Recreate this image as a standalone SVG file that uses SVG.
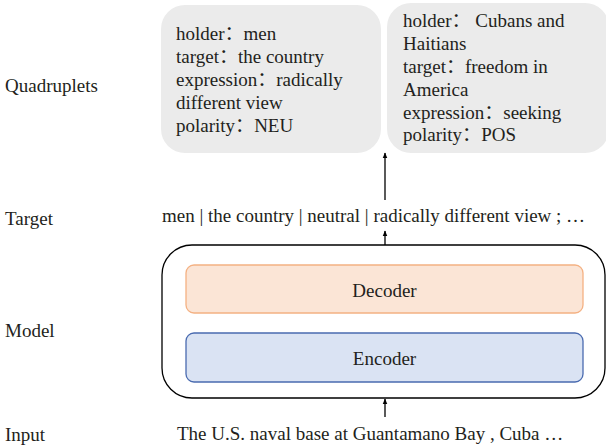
<svg xmlns="http://www.w3.org/2000/svg" width="606" height="445" viewBox="0 0 606 445">
  <style>
    text { font-family: "Liberation Serif", serif; font-size: 19px; fill: #231f20; }
    .c { font-family: "Noto Sans CJK SC", sans-serif; }
    .quad { fill: #ebebeb; stroke: none; }
    .conn { stroke: #000; stroke-width: 1.3; fill: none; marker-end: url(#arrow); }
  </style>
  <defs>
    <marker id="arrow" viewBox="0 0 10 10" refX="9" refY="5" markerWidth="6" markerHeight="6" orient="auto" markerUnits="userSpaceOnUse">
      <path d="M0,1 L10,5 L0,9 Z" fill="#000"/>
    </marker>
  </defs>

  <rect width="606" height="445" fill="#fff"/>

  <!-- row labels -->
  <g id="labels">
    <text x="5" y="92">Quadruplets</text>
    <text x="5" y="225">Target</text>
    <text x="5" y="337">Model</text>
    <text x="5" y="441">Input</text>
  </g>

  <!-- quadruplet boxes; full-width colons set in the CJK face -->
  <g id="quad-1">
    <rect class="quad" x="161" y="5" width="220" height="148" rx="24"/>
    <text x="176" y="40">holder<tspan class="c">：</tspan>men</text>
    <text x="176" y="63">target<tspan class="c">：</tspan>the country</text>
    <text x="176" y="86">expression<tspan class="c">：</tspan>radically</text>
    <text x="176" y="109">different view</text>
    <text x="176" y="132">polarity<tspan class="c">：</tspan>NEU</text>
  </g>
  <g id="quad-2">
    <rect class="quad" x="387" y="3" width="222" height="150" rx="24"/>
    <text x="403" y="27">holder<tspan class="c">：</tspan> Cubans and</text>
    <text x="403" y="50">Haitians</text>
    <text x="403" y="73">target<tspan class="c">：</tspan>freedom in</text>
    <text x="403" y="96">America</text>
    <text x="403" y="119">expression<tspan class="c">：</tspan>seeking</text>
    <text x="403" y="141">polarity<tspan class="c">：</tspan>POS</text>
  </g>

  <!-- target sequence -->
  <g id="target">
    <text x="162" y="222">men | the country | neutral | radically different view ; …</text>
  </g>

  <!-- model -->
  <g id="model">
    <rect x="162" y="245" width="443" height="153" rx="30" fill="#fff" stroke="#000" stroke-width="1.3"/>
  </g>
  <g id="decoder">
    <rect x="186" y="265" width="397" height="48" rx="8" fill="#fbe5d6" stroke="#f4b183" stroke-width="1.3"/>
    <text x="384.5" y="297" text-anchor="middle">Decoder</text>
  </g>
  <g id="encoder">
    <rect x="186" y="333" width="397" height="49" rx="8" fill="#dae3f3" stroke="#4a6bb0" stroke-width="1.3"/>
    <text x="384.5" y="365" text-anchor="middle">Encoder</text>
  </g>

  <!-- input -->
  <g id="input">
    <text x="177" y="440">The U.S. naval base at Guantamano Bay , Cuba …</text>
  </g>

  <!-- connectors -->
  <g id="connectors">
    <line class="conn" x1="385" y1="417" x2="385" y2="399"/>
    <line class="conn" x1="385" y1="245" x2="385" y2="231"/>
    <line class="conn" x1="385" y1="200" x2="385" y2="153"/>
  </g>
</svg>
